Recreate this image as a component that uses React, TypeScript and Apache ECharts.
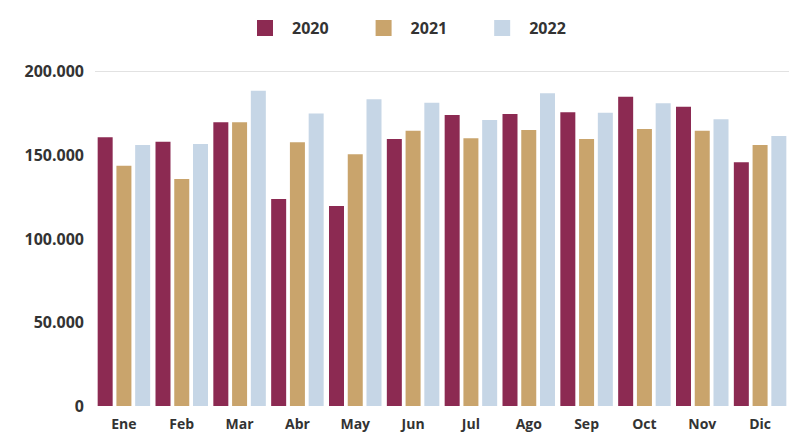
import React, { useEffect, useRef } from "react";
import * as echarts from "echarts";

const months = ["Ene", "Feb", "Mar", "Abr", "May", "Jun", "Jul", "Ago", "Sep", "Oct", "Nov", "Dic"];
const seriesNames = ["2020", "2021", "2022"];
const values2020 = [160400, 157800, 169400, 123600, 119400, 159400, 173700, 174300, 175300, 184700, 178700, 145500];
const values2021 = [143500, 135500, 169400, 157400, 150300, 164400, 159800, 164800, 159400, 165400, 164400, 155800];
const values2022 = [155800, 156400, 188200, 174700, 183100, 181100, 170700, 186700, 175100, 180700, 171200, 161200];
const colors = ["#8c2a52", "#c9a46c", "#c6d6e6"];

const fmt = (v: number) => String(v).replace(/\B(?=(\d{3})+(?!\d))/g, ".");

export default function App() {
  const ref = useRef<HTMLDivElement>(null);
  useEffect(() => {
    if (!ref.current) return;
    const chart = echarts.init(ref.current, null, { renderer: "svg" });
    const font = "'Open Sans', sans-serif";
    const data = [values2020, values2021, values2022];
    chart.setOption({
      animation: false,
      color: colors,
      textStyle: { fontFamily: font },
      legend: {
        left: 252,
        top: 15,
        itemWidth: 16,
        itemHeight: 16,
        itemGap: 47,
        icon: "rect",
        data: seriesNames,
        textStyle: { fontFamily: font, fontWeight: "bold", fontSize: 16, color: "#333", padding: [0, 0, 0, 14] },
      },
      grid: { left: 95, top: 71, width: 700, height: 335, containLabel: false },
      xAxis: {
        type: "category",
        data: months,
        axisLine: { show: false },
        axisTick: { show: false },
        axisLabel: { fontFamily: font, fontWeight: "bold", fontSize: 14, color: "#333", margin: 9, lineHeight: 16 },
      },
      yAxis: {
        type: "value",
        min: 0,
        max: 200000,
        interval: 50000,
        axisLine: { show: false },
        axisTick: { show: false },
        axisLabel: { fontFamily: font, fontWeight: "bold", fontSize: 16, color: "#333", margin: 11, formatter: (v: number) => fmt(v) },
        splitLine: { show: true, lineStyle: { color: ["transparent", "transparent", "transparent", "transparent", "#e2e2e2"], width: 1 } },
      },
      series: seriesNames.map((name, i) => ({
        name,
        type: "bar",
        data: data[i],
        barWidth: 15,
        barGap: "25%",
        itemStyle: { color: colors[i] },
      })),
    });
    return () => chart.dispose();
  }, []);
  return <div ref={ref} style={{ width: 789, height: 433, position: "absolute", left: 0, top: 0, background: "#fff" }} />;
}
